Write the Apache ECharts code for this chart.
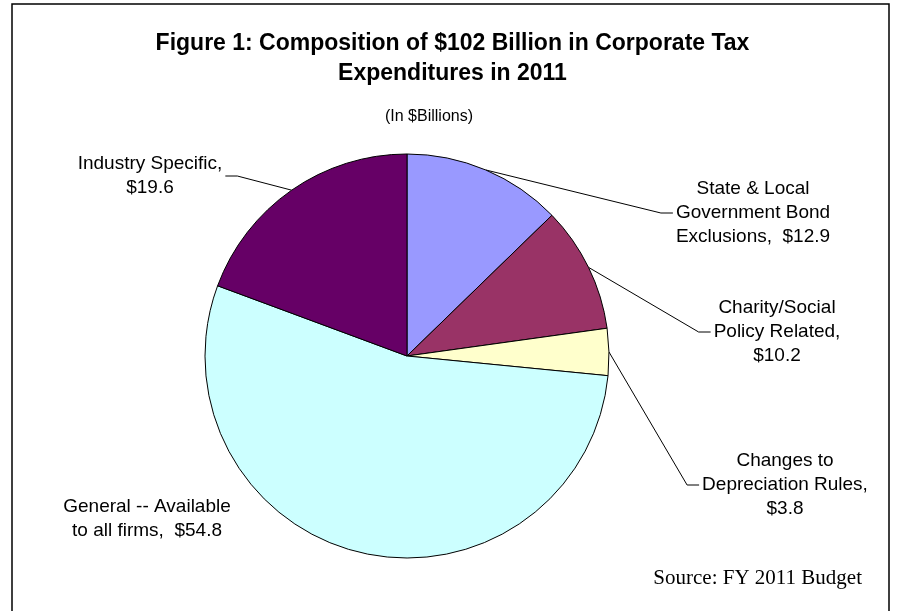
<!DOCTYPE html>
<html>
<head>
<meta charset="utf-8">
<script src="https://cdn.jsdelivr.net/npm/echarts@6/dist/echarts.min.js"></script>
<style>
html,body{margin:0;padding:0;background:#fff;}
#chart{width:905px;height:611px;}
</style>
</head>
<body>
<div id="chart"></div>
<script>
// ---- data ----
const categories = [
  'State & Local Government Bond Exclusions',
  'Charity/Social Policy Related',
  'Changes to Depreciation Rules',
  'General -- Available to all firms',
  'Industry Specific'
];
const values = [12.9, 10.2, 3.8, 54.8, 19.6];
const labelTemplates = [
  'State & Local\nGovernment Bond\nExclusions,  ${c}',
  'Charity/Social\nPolicy Related,\n${c}',
  'Changes to\nDepreciation Rules,\n${c}',
  'General -- Available\nto all firms,  ${c}',
  'Industry Specific,\n${c}'
];
const titleText = 'Figure 1: Composition of $102 Billion in Corporate Tax\nExpenditures in 2011';
const subtitleText = '(In $Billions)';
const sourceText = 'Source: FY 2011 Budget';

// ---- styling / layout ----
const colors = ['#9999FF', '#993366', '#FFFFCC', '#CCFFFF', '#660066'];
const labelPos = [
  {x: 753, y: 213, side: 'right', line: true},
  {x: 777, y: 332, side: 'right', line: true},
  {x: 785, y: 485, side: 'right', line: true},
  {x: 147, y: 519, side: 'left', line: false},
  {x: 150, y: 176, side: 'left', line: true}
];

const chart = echarts.init(document.getElementById('chart'), null, {renderer: 'canvas'});

const data = categories.map((n, i) => ({
  name: n,
  value: values[i],
  itemStyle: {color: colors[i]},
  label: {formatter: labelTemplates[i]},
  labelLine: {show: labelPos[i].line}
}));

const option = {
  animation: false,
  backgroundColor: '#fff',
  title: {
    text: titleText,
    left: 'center',
    top: 24,
    textStyle: {
      fontFamily: 'Liberation Sans, Arial, sans-serif',
      fontSize: 23,
      fontWeight: 'bold',
      color: '#000',
      lineHeight: 30
    }
  },
  graphic: [
    {
      type: 'rect',
      shape: {x: 12, y: 4, width: 877, height: 700},
      style: {fill: 'none', stroke: '#000', lineWidth: 1.5},
      z: 100, silent: true
    },
    {
      type: 'text',
      x: 429, y: 117,
      style: {
        text: subtitleText, align: 'center', verticalAlign: 'middle',
        font: '16px "Liberation Sans", Arial, sans-serif', fill: '#000'
      }
    },
    {
      type: 'text',
      x: 862, y: 578,
      style: {
        text: sourceText, align: 'right', verticalAlign: 'middle',
        font: '21px "Liberation Serif", "Times New Roman", serif', fill: '#000'
      }
    }
  ],
  series: [{
    type: 'pie',
    center: [407, 356],
    radius: 202,
    startAngle: 90,
    clockwise: true,
    avoidLabelOverlap: false,
    emphasis: {disabled: true},
    itemStyle: {borderColor: '#000', borderWidth: 1},
    label: {
      show: true,
      position: 'outside',
      overflow: 'none',
      fontFamily: 'Liberation Sans, Arial, sans-serif',
      fontSize: 19,
      lineHeight: 24,
      color: '#000'
    },
    labelLine: {
      show: true, length: 8, length2: 8, smooth: false,
      lineStyle: {color: '#000', width: 1}
    },
    labelLayout: function (params) {
      const p = labelPos[params.dataIndex];
      const w = params.labelRect.width;
      const res = {x: p.x, y: p.y, align: 'center', verticalAlign: 'middle'};
      const pts = params.labelLinePoints;
      if (p.line && pts && pts.length) {
        const start = [pts[0][0], pts[0][1]];
        let end, mid;
        if (p.side === 'right') {
          end = [p.x - w / 2 - 3, p.y];
          mid = [end[0] - 12, p.y];
        } else {
          end = [p.x + w / 2 + 3, p.y];
          mid = [end[0] + 12, p.y];
        }
        res.labelLinePoints = [start, mid, end];
      }
      return res;
    },
    data: data
  }]
};
chart.setOption(option);
</script>
</body>
</html>
